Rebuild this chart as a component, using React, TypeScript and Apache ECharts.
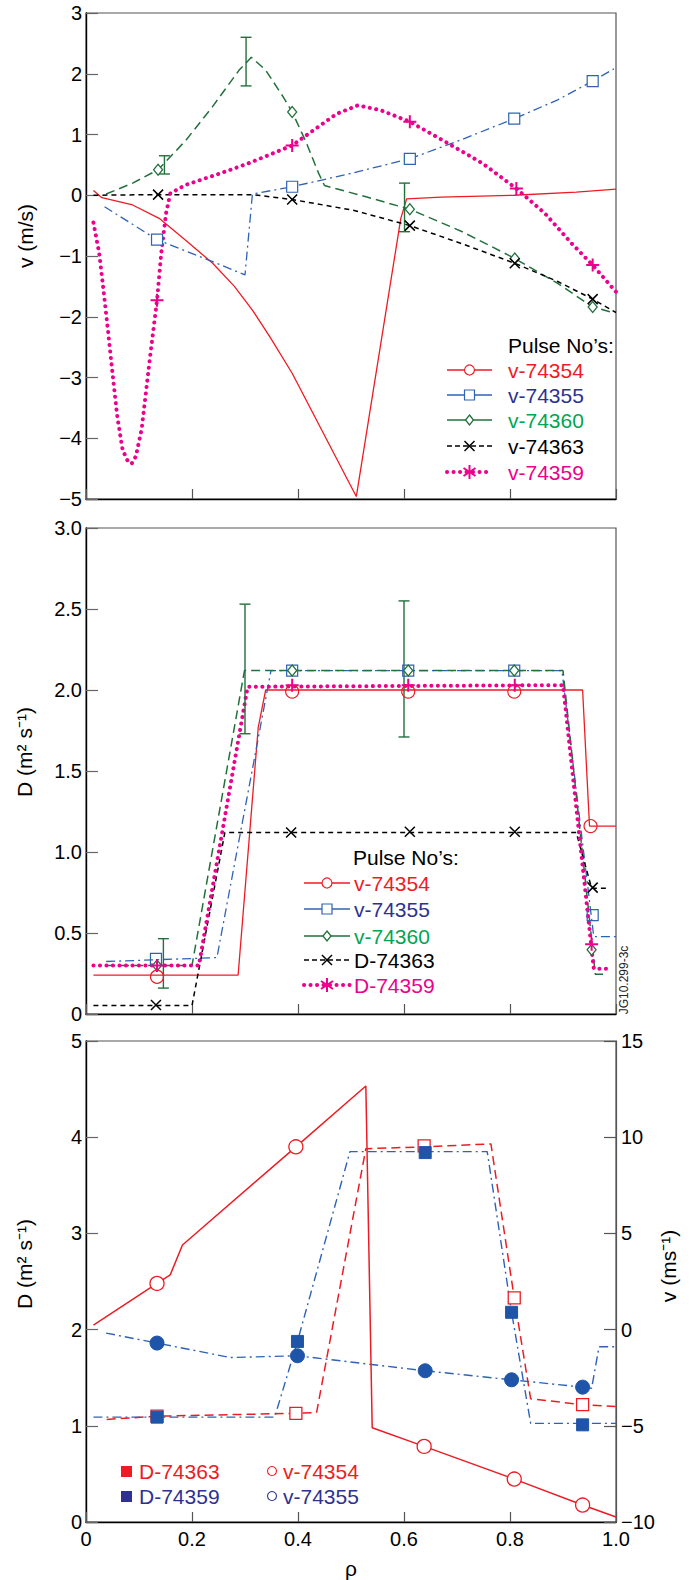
import React, { useEffect, useRef } from 'react';
import * as echarts from 'echarts';

const FONT = '"Liberation Sans", Arial, Helvetica, sans-serif';
const RED = '#ed1c24';
const BLUE = '#2f62b5';
const NAVY = '#2e3192';
const GREEN = '#22703c';
const GREEN_TXT = '#00a651';
const MAG = '#ec008c';
const BLK = '#000000';
const BFILL = '#1f55a8';

// ---------- Top panel: v (m/s) vs rho ----------
const vTop74354 = [[0.014,0.08],[0.03,-0.04],[0.088,-0.16],[0.138,-0.38],[0.188,-0.74],[0.239,-1.12],[0.28,-1.5],[0.314,-1.89],[0.347,-2.33],[0.389,-2.93],[0.51,-4.96],[0.594,-0.38],[0.605,-0.06],[0.67,-0.03],[0.808,0.0],[0.925,0.05],[1.0,0.1]];
const vTop74355 = [[0.035,-0.19],[0.134,-0.73],[0.238,-1.09],[0.3,-1.31],[0.314,0.02],[0.389,0.14],[0.5,0.36],[0.611,0.6],[0.71,0.92],[0.808,1.26],[0.89,1.57],[0.956,1.88],[0.996,2.08]];
const vTop74355Mk = [[0.134,-0.73],[0.389,0.14],[0.611,0.6],[0.808,1.26],[0.956,1.88]];
const vTop74360 = [[0.038,0.02],[0.088,0.2],[0.136,0.42],[0.188,0.9],[0.238,1.45],[0.289,2.06],[0.312,2.27],[0.339,2.06],[0.372,1.62],[0.389,1.37],[0.414,0.9],[0.439,0.36],[0.45,0.16],[0.53,-0.03],[0.611,-0.23],[0.71,-0.6],[0.809,-1.04],[0.89,-1.45],[0.956,-1.84],[0.99,-1.92]];
const vTop74360Mk = [[0.136,0.42],[0.389,1.37],[0.611,-0.23],[0.809,-1.04],[0.956,-1.84]];
const vTop74360Err = [[0.148,0.35,0.65],[0.302,1.8,2.6],[0.601,-0.6,0.2]];
const vTop74363 = [[0.014,0.0],[0.136,0.01],[0.314,0.01],[0.389,-0.07],[0.506,-0.25],[0.611,-0.5],[0.71,-0.8],[0.809,-1.12],[0.89,-1.42],[0.956,-1.71],[1.0,-1.93]];
const vTop74363Mk = [[0.136,0.01],[0.389,-0.07],[0.611,-0.5],[0.809,-1.12],[0.956,-1.71]];
const vTop74359 = [[0.014,-0.45],[0.025,-0.96],[0.033,-1.56],[0.042,-2.27],[0.05,-2.93],[0.059,-3.64],[0.069,-4.19],[0.079,-4.38],[0.086,-4.42],[0.094,-4.3],[0.105,-3.85],[0.121,-2.65],[0.134,-1.73],[0.142,-0.95],[0.151,-0.3],[0.159,0.03],[0.188,0.17],[0.25,0.35],[0.305,0.52],[0.389,0.82],[0.473,1.34],[0.513,1.48],[0.556,1.4],[0.611,1.21],[0.674,0.9],[0.749,0.52],[0.812,0.11],[0.866,-0.3],[0.916,-0.79],[0.956,-1.15],[1.0,-1.59]];
const vTop74359Mk = [[0.134,-1.73],[0.389,0.82],[0.611,1.21],[0.812,0.11],[0.956,-1.15]];

// ---------- Middle panel: D (m2 s-1) vs rho ----------
const dMid74354 = [[0.014,0.24],[0.287,0.24],[0.325,1.77],[0.339,2.0],[0.937,2.0],[0.95,1.16],[1.0,1.16]];
const dMid74354Mk = [[0.134,0.23],[0.389,1.99],[0.608,1.99],[0.808,1.99],[0.952,1.16]];
const dMid74355 = [[0.038,0.324],[0.247,0.348],[0.349,2.12],[0.898,2.12],[0.958,0.478],[1.0,0.478]];
const dMid74355Mk = [[0.132,0.34],[0.389,2.12],[0.608,2.12],[0.808,2.12],[0.956,0.61]];
const dMid74360 = [[0.038,0.3],[0.2,0.3],[0.299,2.12],[0.9,2.12],[0.961,0.245],[0.983,0.245]];
const dMid74360Mk = [[0.134,0.3],[0.389,2.12],[0.608,2.12],[0.808,2.12],[0.954,0.396]];
const dMid74360Err = [[0.146,0.16,0.465],[0.3,1.73,2.53],[0.6,1.71,2.55]];
const dMid74363 = [[0.014,0.052],[0.2,0.052],[0.262,1.12],[0.925,1.12],[0.954,0.777],[0.986,0.777]];
const dMid74363Mk = [[0.132,0.055],[0.387,1.12],[0.611,1.125],[0.809,1.125],[0.956,0.78]];
const dMid74359 = [[0.014,0.3],[0.213,0.3],[0.305,2.02],[0.9,2.03],[0.958,0.28],[0.985,0.28]];
const dMid74359Mk = [[0.134,0.3],[0.389,2.03],[0.608,2.03],[0.809,2.03],[0.954,0.43]];

// ---------- Bottom panel: D (left) and v (right) ----------
const vBot74354 = [[0.014,0.23],[0.134,2.4],[0.159,2.85],[0.182,4.4],[0.396,9.5],[0.528,12.66],[0.54,-5.1],[0.638,-6.07],[0.808,-7.77],[0.937,-9.12],[1.0,-9.74]];
const vBot74354Mk = [[0.134,2.4],[0.396,9.5],[0.638,-6.07],[0.808,-7.77],[0.937,-9.12]];
const dBot74363 = [[0.039,1.066],[0.134,1.1],[0.396,1.13],[0.435,1.137],[0.528,3.88],[0.638,3.9],[0.764,3.93],[0.808,2.33],[0.839,1.28],[0.937,1.22],[1.0,1.2]];
const dBot74363Mk = [[0.134,1.1],[0.396,1.13],[0.638,3.91],[0.808,2.33],[0.937,1.22]];
const dBot74359 = [[0.014,1.09],[0.356,1.09],[0.399,1.877],[0.498,3.85],[0.757,3.85],[0.803,2.18],[0.839,1.025],[1.0,1.025]];
const dBot74359Mk = [[0.134,1.09],[0.399,1.877],[0.64,3.84],[0.803,2.18],[0.937,1.01]];
const vBot74355 = [[0.038,-0.18],[0.134,-0.7],[0.272,-1.45],[0.399,-1.36],[0.64,-2.14],[0.803,-2.61],[0.937,-2.99],[0.954,-3.05],[0.968,-0.89],[1.0,-0.89]];
const vBot74355Mk = [[0.134,-0.7],[0.399,-1.36],[0.64,-2.14],[0.803,-2.61],[0.937,-2.99]];

const topLegend = ['v-74354', 'v-74355', 'v-74360', 'v-74363', 'v-74359'];
const midLegend = ['v-74354', 'v-74355', 'v-74360', 'D-74363', 'D-74359'];
const botLegend = ['D-74363', 'D-74359', 'v-74354', 'v-74355'];

const X_PATH = 'path://M0,0L10,10M10,0L0,10';
const PLUS_PATH = 'path://M5,0L5,10M0,5L10,5';

const DASHDOT = [9, 4, 2, 4];
const DASH = [9, 5];
const SHORTDASH = [5, 4];
const DOTS = [0.1, 6.4];

function lineS(data: number[][], xi: number, yi: number, color: string, type: any, width = 1.3, extra: any = {}) {
  return {
    type: 'line', data, xAxisIndex: xi, yAxisIndex: yi, showSymbol: false, symbol: 'none',
    silent: true, z: 2,
    lineStyle: { color, type, width, ...extra },
  };
}
function markS(data: number[][], xi: number, yi: number, symbol: string, size: any, fill: string, stroke: string, bw: number) {
  return {
    type: 'scatter', data, xAxisIndex: xi, yAxisIndex: yi, symbol, symbolSize: size, silent: true, z: 6,
    itemStyle: { color: fill, borderColor: stroke, borderWidth: bw, opacity: 1 },
  };
}
function errS(data: number[][], xi: number, yi: number) {
  return {
    type: 'custom', data, xAxisIndex: xi, yAxisIndex: yi, silent: true, z: 4,
    encode: { x: 0, y: [1, 2] },
    renderItem: (_p: any, api: any) => {
      const x = api.value(0), lo = api.value(1), hi = api.value(2);
      const a = api.coord([x, lo]);
      const b = api.coord([x, hi]);
      const w = 5.5;
      const st = { stroke: GREEN, lineWidth: 1.4 };
      return {
        type: 'group',
        children: [
          { type: 'line', shape: { x1: a[0], y1: a[1], x2: b[0], y2: b[1] }, style: st },
          { type: 'line', shape: { x1: a[0] - w, y1: a[1], x2: a[0] + w, y2: a[1] }, style: st },
          { type: 'line', shape: { x1: b[0] - w, y1: b[1], x2: b[0] + w, y2: b[1] }, style: st },
        ],
      };
    },
  };
}

const minus = (v: number) => (v < 0 ? '\u2212' + Math.abs(v) : String(v));

function legendMarker(kind: string, cx: number, cy: number, color: string): any[] {
  const z = 100;
  if (kind === 'circle') return [{ type: 'circle', z, shape: { cx, cy, r: 5 }, style: { fill: '#fff', stroke: color, lineWidth: 1.2 } }];
  if (kind === 'square') return [{ type: 'rect', z, shape: { x: cx - 5, y: cy - 5, width: 10, height: 10 }, style: { fill: '#fff', stroke: color, lineWidth: 1.2 } }];
  if (kind === 'diamond') return [{ type: 'polygon', z, shape: { points: [[cx, cy - 5], [cx + 4, cy], [cx, cy + 5], [cx - 4, cy]] }, style: { fill: '#fff', stroke: color, lineWidth: 1.3 } }];
  if (kind === 'x') return [
    { type: 'line', z, shape: { x1: cx - 5, y1: cy - 5, x2: cx + 5, y2: cy + 5 }, style: { stroke: color, lineWidth: 1.5 } },
    { type: 'line', z, shape: { x1: cx + 5, y1: cy - 5, x2: cx - 5, y2: cy + 5 }, style: { stroke: color, lineWidth: 1.5 } },
  ];
  // asterisk
  return [
    { type: 'line', z, shape: { x1: cx, y1: cy - 7, x2: cx, y2: cy + 7 }, style: { stroke: color, lineWidth: 2 } },
    { type: 'line', z, shape: { x1: cx - 6, y1: cy - 4, x2: cx + 6, y2: cy + 4 }, style: { stroke: color, lineWidth: 2 } },
    { type: 'line', z, shape: { x1: cx - 6, y1: cy + 4, x2: cx + 6, y2: cy - 4 }, style: { stroke: color, lineWidth: 2 } },
  ];
}

function legendBlock(titleX: number, titleY: number, rowsY: number[], lx1: number, lx2: number, tx: number, labels: string[]): any[] {
  const specs = [
    { line: RED, dash: null, w: 1.3, mk: 'circle', txt: RED },
    { line: BLUE, dash: null, w: 1.3, mk: 'square', txt: NAVY },
    { line: GREEN, dash: null, w: 1.5, mk: 'diamond', txt: GREEN_TXT },
    { line: BLK, dash: [5, 3], w: 1.4, mk: 'x', txt: BLK },
    { line: MAG, dash: DOTS, w: 4, mk: 'ast', txt: MAG },
  ];
  const els: any[] = [
    { type: 'text', z: 100, x: titleX, y: titleY, style: { text: "Pulse No\u2019s:", fill: '#000', fontSize: 21, fontFamily: FONT, align: 'left', verticalAlign: 'middle' } },
  ];
  specs.forEach((s, i) => {
    const y = rowsY[i];
    els.push({ type: 'line', z: 99, shape: { x1: lx1, y1: y, x2: lx2, y2: y }, style: { stroke: s.line, lineWidth: s.w, lineDash: s.dash, lineCap: s.mk === 'ast' ? 'round' : 'butt' } });
    els.push(...legendMarker(s.mk, (lx1 + lx2) / 2, y, s.mk === 'circle' || s.mk === 'square' ? s.line : s.line));
    els.push({ type: 'text', z: 100, x: tx, y, style: { text: labels[i], fill: s.txt, fontSize: 21, fontFamily: FONT, align: 'left', verticalAlign: 'middle' } });
  });
  return els;
}

function vText(text: string, x: number, y: number, size = 20, fill = '#000') {
  return { type: 'text', z: 100, x, y, rotation: Math.PI / 2, style: { text, fill, fontSize: size, fontFamily: FONT, align: 'center', verticalAlign: 'middle' } };
}

function buildOption() {
  const GL = 86, GW = 530;
  const grids = [
    { left: GL, top: 13, width: GW, height: 486 },
    { left: GL, top: 528, width: GW, height: 486 },
    { left: GL, top: 1041, width: GW, height: 484 },
  ].map((g) => ({ ...g, show: true, borderColor: '#555', borderWidth: 1.2, backgroundColor: 'transparent', containLabel: false }));

  const xAxis = [0, 1, 2].map((i) => ({
    type: 'value', gridIndex: i, min: 0, max: 1, interval: 0.2,
    axisLine: { show: true, onZero: false, lineStyle: { color: '#000', width: 1.4 } },
    axisTick: { show: true, inside: true, length: 10, lineStyle: { color: '#555', width: 1.2 } },
    splitLine: { show: false },
    axisLabel: {
      show: i === 2, color: '#000', fontSize: 20, fontFamily: FONT, margin: 7,
      formatter: (v: number) => (v === 0 ? '0' : v.toFixed(1)),
    },
    name: i === 2 ? '\u03c1' : '', nameLocation: 'middle', nameGap: 36,
    nameTextStyle: { color: '#000', fontSize: 21, fontFamily: FONT },
  }));

  const yCommon = {
    type: 'value',
    axisLine: { show: true, onZero: false, lineStyle: { color: '#000', width: 1.4 } },
    axisTick: { show: true, inside: true, length: 12, lineStyle: { color: '#666', width: 1.2 } },
    splitLine: { show: false },
  };
  const yAxis = [
    { ...yCommon, gridIndex: 0, min: -5, max: 3, interval: 1,
      axisLabel: { color: '#000', fontSize: 20, fontFamily: FONT, margin: 4, formatter: minus } },
    { ...yCommon, gridIndex: 1, min: 0, max: 3, interval: 0.5,
      axisLabel: { color: '#000', fontSize: 20, fontFamily: FONT, margin: 4, formatter: (v: number) => (v === 0 ? '0' : v.toFixed(1)) } },
    { ...yCommon, gridIndex: 2, min: 0, max: 5, interval: 1,
      axisLabel: { color: '#000', fontSize: 20, fontFamily: FONT, margin: 4 } },
    { ...yCommon, gridIndex: 2, min: -10, max: 15, interval: 5, position: 'right',
      axisLine: { show: true, onZero: false, lineStyle: { color: '#555', width: 1.2 } },
      axisTick: { show: true, inside: true, length: 12, lineStyle: { color: '#555', width: 1.2 } },
      axisLabel: { color: '#000', fontSize: 20, fontFamily: FONT, margin: 5, formatter: minus } },
  ];

  const series: any[] = [
    // top
    lineS(vTop74354, 0, 0, RED, 'solid', 1.3),
    lineS(vTop74355, 0, 0, BLUE, DASHDOT, 1.3),
    lineS(vTop74360, 0, 0, GREEN, DASH, 1.5),
    lineS(vTop74363, 0, 0, BLK, SHORTDASH, 1.5),
    lineS(vTop74359, 0, 0, MAG, DOTS, 4, { cap: 'round' }),
    errS(vTop74360Err, 0, 0),
    markS(vTop74355Mk, 0, 0, 'rect', 11, '#fff', BLUE, 1.2),
    markS(vTop74360Mk, 0, 0, 'diamond', [9, 11], '#fff', GREEN, 1.3),
    markS(vTop74363Mk, 0, 0, X_PATH, 10, 'transparent', BLK, 1.5),
    markS(vTop74359Mk, 0, 0, PLUS_PATH, 13, 'transparent', MAG, 2),
    // middle
    lineS(dMid74354, 1, 1, RED, 'solid', 1.3),
    lineS(dMid74355, 1, 1, BLUE, DASHDOT, 1.3),
    lineS(dMid74360, 1, 1, GREEN, DASH, 1.5),
    lineS(dMid74363, 1, 1, BLK, SHORTDASH, 1.5),
    lineS(dMid74359, 1, 1, MAG, DOTS, 4, { cap: 'round' }),
    errS(dMid74360Err, 1, 1),
    markS(dMid74354Mk, 1, 1, 'circle', 13, 'transparent', RED, 1.2),
    markS(dMid74355Mk, 1, 1, 'rect', 11, 'transparent', BLUE, 1.2),
    markS(dMid74360Mk, 1, 1, 'diamond', [9, 11], '#fff', GREEN, 1.3),
    markS(dMid74363Mk, 1, 1, X_PATH, 10, 'transparent', BLK, 1.5),
    markS(dMid74359Mk, 1, 1, PLUS_PATH, 13, 'transparent', MAG, 2),
    // bottom
    lineS(dBot74363, 2, 2, RED, DASH, 1.5),
    lineS(dBot74359, 2, 2, BLUE, DASHDOT, 1.4),
    lineS(vBot74355, 2, 3, BLUE, DASHDOT, 1.4),
    lineS(vBot74354, 2, 3, RED, 'solid', 1.5),
    markS(dBot74363Mk, 2, 2, 'rect', 12, '#fff', RED, 1.3),
    markS(dBot74359Mk, 2, 2, 'rect', 12, BFILL, BFILL, 1),
    markS(vBot74355Mk, 2, 3, 'circle', 14, BFILL, BFILL, 1),
    markS(vBot74354Mk, 2, 3, 'circle', 14, '#fff', RED, 1.3),
  ];

  const graphic: any[] = [
    ...legendBlock(508, 345, [370, 395, 420, 446, 472], 447, 492, 508, topLegend),
    ...legendBlock(353, 857, [883, 909, 936, 960, 985], 304, 350, 354, midLegend),
    vText('v (m/s)', 25, 236, 21),
    vText('D (m\u00b2 s\u207b\u00b9)', 24, 752, 21),
    vText('D (m\u00b2 s\u207b\u00b9)', 24, 1264, 21),
    vText('v (ms\u207b\u00b9)', 668, 1266, 21),
    vText('JG10.299-3c', 624, 980, 12, '#222'),
    // bottom legend
    { type: 'rect', z: 100, shape: { x: 121, y: 1466, width: 11, height: 11 }, style: { fill: RED } },
    { type: 'text', z: 100, x: 139, y: 1471, style: { text: botLegend[0], fill: RED, fontSize: 21, fontFamily: FONT, align: 'left', verticalAlign: 'middle' } },
    { type: 'rect', z: 100, shape: { x: 121, y: 1491, width: 11, height: 11 }, style: { fill: NAVY } },
    { type: 'text', z: 100, x: 139, y: 1496, style: { text: botLegend[1], fill: NAVY, fontSize: 21, fontFamily: FONT, align: 'left', verticalAlign: 'middle' } },
    { type: 'circle', z: 100, shape: { cx: 272, cy: 1471, r: 4.5 }, style: { fill: '#fff', stroke: RED, lineWidth: 1.1 } },
    { type: 'text', z: 100, x: 283, y: 1471, style: { text: botLegend[2], fill: RED, fontSize: 21, fontFamily: FONT, align: 'left', verticalAlign: 'middle' } },
    { type: 'circle', z: 100, shape: { cx: 272, cy: 1496, r: 4.5 }, style: { fill: '#fff', stroke: NAVY, lineWidth: 1.1 } },
    { type: 'text', z: 100, x: 283, y: 1496, style: { text: botLegend[3], fill: NAVY, fontSize: 21, fontFamily: FONT, align: 'left', verticalAlign: 'middle' } },
  ];

  return {
    animation: false,
    backgroundColor: '#fff',
    textStyle: { fontFamily: FONT },
    grid: grids,
    xAxis,
    yAxis,
    series,
    graphic,
  };
}

export default function App() {
  const ref = useRef<HTMLDivElement>(null);
  useEffect(() => {
    if (!ref.current) return;
    const chart = echarts.init(ref.current, null, { renderer: 'svg' });
    chart.setOption(buildOption() as any);
    return () => chart.dispose();
  }, []);
  return (
    <div
      ref={ref}
      style={{ position: 'absolute', left: 0, top: 0, width: 694, height: 1580, background: '#fff' }}
    />
  );
}
